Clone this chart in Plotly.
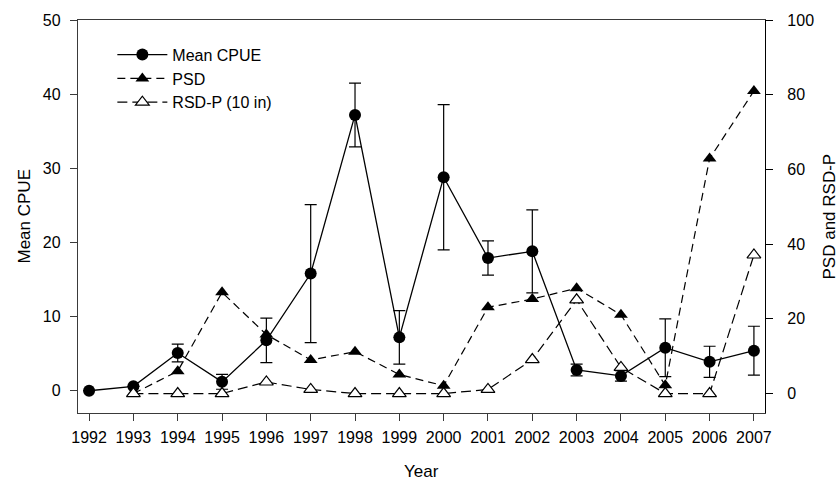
import plotly.graph_objects as go

# Survey years
years = list(range(1992, 2008))

# Mean catch per unit effort with its error (left axis)
cpue = [0.0, 0.6, 5.1, 1.2, 6.8, 15.8, 37.2, 7.2, 28.8, 17.9, 18.8, 2.8, 2.0, 5.8, 3.9, 5.4]
cpue_err = [0.0, 0.0, 1.2, 1.0, 3.0, 9.3, 4.3, 3.6, 9.8, 2.3, 5.6, 0.8, 0.7, 3.9, 2.1, 3.3]

# Stock density indices (right axis), sampled from 1993 on
index_years = list(range(1993, 2008))
psd = [0.0, 6.0, 27.1, 15.8, 9.0, 11.2, 5.1, 2.1, 23.1, 25.3, 28.2, 21.1, 2.2, 62.9, 81.0]
rsd_p = [0.0, 0.0, 0.0, 3.1, 1.1, 0.0, 0.0, 0.0, 1.1, 9.1, 25.1, 7.0, 0.0, 0.0, 37.1]

left_ticks = [0, 10, 20, 30, 40, 50]
right_ticks = [0, 20, 40, 60, 80, 100]

FONT = "Liberation Sans, Arial, sans-serif"
INK = "#000000"
AXIS = "#3a3a3a"

fig = go.Figure()

fig.add_trace(go.Scatter(
    x=years, y=cpue, name="Mean CPUE", mode="lines+markers",
    line=dict(color=INK, width=1.3),
    marker=dict(symbol="circle", size=12, color=INK),
    error_y=dict(type="data", array=cpue_err, visible=True,
                 color=INK, thickness=1.2, width=6),
    yaxis="y",
))

fig.add_trace(go.Scatter(
    x=index_years, y=psd, name="PSD", mode="lines+markers",
    line=dict(color=INK, width=1.2, dash="8px,5px"),
    marker=dict(symbol="triangle-up", size=12, color=INK),
    yaxis="y2",
))

fig.add_trace(go.Scatter(
    x=index_years, y=rsd_p, name="RSD-P (10 in)", mode="lines+markers",
    line=dict(color=INK, width=1.2, dash="10px,5px"),
    marker=dict(symbol="triangle-up", size=12, color="white",
                line=dict(color=INK, width=1.2)),
    yaxis="y2",
))

fig.update_layout(
    width=840, height=481,
    margin=dict(l=78, r=75, t=14, b=68),
    paper_bgcolor="white", plot_bgcolor="white",
    font=dict(family=FONT, size=16, color=INK),
    showlegend=True,
    legend=dict(
        x=0.05, y=0.955, xanchor="left", yanchor="top",
        bgcolor="rgba(0,0,0,0)", borderwidth=0,
        font=dict(size=16), tracegroupgap=0, itemwidth=50,
    ),
    xaxis=dict(
        range=[1991.75, 2007.25], tickvals=years,
        ticks="outside", ticklen=7, tickwidth=1.2, tickcolor=AXIS,
        showline=True, linecolor=AXIS, linewidth=1.3, mirror=True,
        showgrid=False, zeroline=False, ticklabelstandoff=3,
    ),
    yaxis=dict(
        range=[-3, 50], tickvals=left_ticks,
        ticks="outside", ticklen=7, tickwidth=1.2, tickcolor=AXIS,
        showline=True, linecolor=AXIS, linewidth=1.3,
        showgrid=False, zeroline=False, ticklabelstandoff=6,
    ),
    yaxis2=dict(
        range=[-5.2, 100], tickvals=right_ticks, overlaying="y", side="right",
        ticks="outside", ticklen=7, tickwidth=1.2, tickcolor=INK,
        showline=True, linecolor=INK, linewidth=1.3,
        showgrid=False, zeroline=False, ticklabelstandoff=11,
    ),
    annotations=[
        dict(text="Year", xref="paper", yref="paper", x=0.5, y=-0.148,
             xanchor="center", yanchor="middle", showarrow=False,
             font=dict(size=17)),
        dict(text="Mean CPUE", xref="paper", yref="paper", x=-0.0786, y=0.5,
             xanchor="center", yanchor="middle", textangle=-90, showarrow=False,
             font=dict(size=17)),
        dict(text="PSD and RSD-P", xref="paper", yref="paper", x=1.0946, y=0.5,
             xanchor="center", yanchor="middle", textangle=-90, showarrow=False,
             font=dict(size=17)),
    ],
)

fig.write_html("out.html")
